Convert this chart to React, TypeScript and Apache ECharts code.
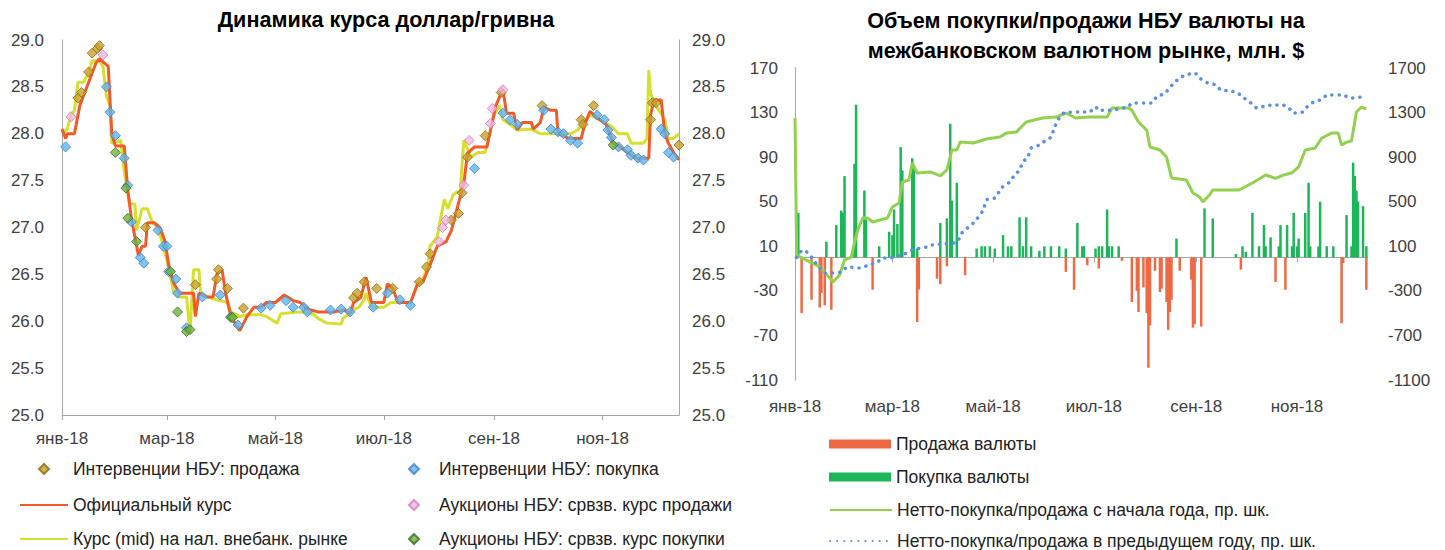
import React, { useEffect, useRef } from 'react';
import * as echarts from 'echarts';

// ---------- axis ticks (day of year 2018, 0 = 1 Jan) ----------
const MONTH_DAYS = [0, 59, 120, 181, 243, 304];
const MONTH_LABELS = ['янв-18', 'мар-18', 'май-18', 'июл-18', 'сен-18', 'ноя-18'];
const X_MAX = 347;

// ---------- left chart: USD/UAH ----------
const officialRate: [number, number][] = [
  [0, 28.05], [2, 27.95], [3, 28.0], [7, 28.0], [10, 28.3], [13, 28.45], [16, 28.6], [19, 28.75],
  [21, 28.8], [24, 28.75], [26, 28.72], [28, 28.0], [30, 27.87], [35, 27.87], [37, 27.4], [39, 27.1],
  [41, 26.9], [43, 26.7], [45, 26.8], [47, 26.8], [48, 27.05], [52, 27.05], [55, 27.0], [58, 26.85],
  [60, 26.6], [63, 26.4], [66, 26.3], [70, 26.3], [74, 26.3], [75, 26.05], [77, 26.3], [81, 26.26],
  [85, 26.26], [87, 26.5], [90, 26.55], [92, 26.3], [95, 26.05], [100, 25.9], [104, 26.05], [108, 26.15],
  [112, 26.15], [115, 26.2], [120, 26.2], [125, 26.28], [130, 26.22], [134, 26.2], [138, 26.13], [144, 26.1],
  [153, 26.1], [159, 26.12], [162, 26.08], [164, 26.2], [168, 26.25], [171, 26.47], [174, 26.2], [181, 26.2],
  [183, 26.4], [186, 26.35], [189, 26.2], [196, 26.2], [200, 26.4], [203, 26.42], [207, 26.6], [211, 26.8],
  [216, 26.85], [219, 26.97], [223, 27.26], [226, 27.47], [228, 27.79], [232, 27.86], [239, 27.86], [241, 28.04],
  [244, 28.3], [247, 28.43], [248, 28.47], [250, 28.22], [254, 28.22], [256, 28.04], [259, 28.12], [264, 28.12],
  [265, 28.05], [269, 28.12], [271, 28.28], [275, 28.25], [278, 28.25], [279, 28.0], [285, 27.95], [292, 27.95],
  [294, 28.1], [297, 28.24], [301, 28.17], [306, 28.1], [310, 27.9], [314, 27.86], [318, 27.8], [323, 27.74],
  [330, 27.74], [331, 28.2], [333, 28.36], [337, 28.36], [339, 28.0], [341, 27.9], [344, 27.8], [347, 27.72],
];

const cashMarketRate: [number, number][] = [
  [0, 28.0], [3, 28.05], [5, 28.2], [7, 28.25], [9, 28.55], [12, 28.55], [15, 28.65], [17, 28.78],
  [21, 28.78], [23, 28.72], [25, 28.4], [27, 28.3], [28, 27.9], [33, 27.93], [35, 27.6], [38, 27.25],
  [41, 27.25], [42, 26.97], [45, 27.2], [48, 27.2], [51, 27.05], [54, 27.0], [57, 26.8], [59, 26.65],
  [63, 26.3], [66, 26.26], [70, 26.26], [72, 25.87], [74, 26.55], [77, 26.55], [78, 26.3], [82, 26.26],
  [85, 26.24], [89, 26.22], [93, 26.2], [95, 26.1], [100, 26.05], [104, 26.07], [112, 26.07], [115, 26.05],
  [121, 25.98], [123, 26.08], [134, 26.1], [141, 26.08], [144, 26.03], [149, 25.98], [157, 25.97], [158, 26.03],
  [164, 26.12], [167, 26.15], [170, 26.23], [171, 26.3], [174, 26.15], [181, 26.15], [185, 26.2], [196, 26.2],
  [200, 26.4], [203, 26.45], [206, 26.6], [207, 26.8], [211, 26.9], [215, 27.3], [217, 27.2], [220, 27.35],
  [224, 27.4], [226, 27.93], [230, 27.75], [234, 27.8], [238, 27.8], [241, 28.04], [243, 28.2], [246, 28.3],
  [248, 28.15], [252, 28.1], [256, 28.04], [264, 28.05], [269, 28.0], [281, 28.0], [286, 28.0], [290, 28.04],
  [293, 28.1], [297, 28.2], [305, 28.12], [309, 28.08], [313, 28.0], [318, 28.0], [320, 27.9], [327, 27.9],
  [329, 27.95], [330, 28.68], [331, 28.43], [334, 28.3], [339, 28.15], [341, 27.95], [344, 27.95], [347, 28.0],
];

const interventionSell: [number, number][] = [
  [9, 28.38], [11, 28.44], [15, 28.66], [17, 28.86], [20, 28.91], [21, 28.94], [47, 27.0], [75, 26.39],
  [87, 26.45], [88, 26.55], [93, 26.35], [102, 26.14], [164, 26.25], [166, 26.3], [170, 26.42], [177, 26.35],
  [186, 26.35], [201, 26.42], [205, 26.58], [207, 26.72], [219, 27.08], [223, 27.15], [225, 27.37], [228, 27.75],
  [238, 27.98], [247, 28.44], [270, 28.3], [292, 28.15], [293, 28.1], [299, 28.3], [331, 28.15], [332, 28.33],
  [334, 28.33], [347, 27.88],
];

const interventionBuy: [number, number][] = [
  [2, 27.86], [25, 28.5], [27, 28.23], [30, 27.98], [35, 27.74], [37, 27.45], [39, 27.06], [44, 26.68],
  [46, 26.62], [54, 26.97], [57, 26.8], [59, 26.8], [60, 26.53], [64, 26.45], [65, 26.3], [70, 25.93],
  [79, 26.26], [89, 26.28], [95, 26.05], [99, 25.96], [112, 26.14], [117, 26.17], [126, 26.22], [130, 26.15],
  [136, 26.15], [138, 26.1], [151, 26.12], [157, 26.13], [162, 26.1], [175, 26.15], [183, 26.3], [190, 26.23],
  [196, 26.17], [232, 27.63], [248, 28.22], [252, 28.15], [256, 28.1], [271, 28.25], [275, 28.05], [279, 28.02],
  [282, 28.0], [286, 27.93], [290, 27.9], [301, 28.2], [305, 28.15], [307, 28.04], [309, 27.96], [313, 27.86],
  [318, 27.83], [320, 27.77], [324, 27.74], [327, 27.72], [337, 28.05], [339, 28.0], [341, 27.8], [344, 27.75],
];

const auctionSell: [number, number][] = [
  [5, 28.18], [23, 28.84], [212, 26.85], [214, 27.0], [216, 27.08], [226, 27.45], [229, 27.93], [241, 28.11],
  [242, 28.27], [248, 28.47],
];

const auctionBuy: [number, number][] = [
  [30, 27.8], [36, 27.42], [37, 27.1], [42, 26.85], [61, 26.53], [65, 26.1], [70, 25.89], [72, 25.91],
  [95, 26.04], [96, 26.04], [310, 27.88],
];

// ---------- right chart: NBU purchases / sales, mln $ ----------
const fxSales: [number, number][] = [
  [4, -50], [10, -38], [15, -45], [16, -32], [18, -43], [22, -47], [47, -29], [74, -58], [75, -29],
  [86, -19], [88, -24], [92, -8], [103, -16], [164, -13], [169, -29], [177, -7], [184, -10], [198, -3],
  [204, -40], [207, -30], [208, -49], [211, -27], [213, -50], [214, -99], [215, -61], [218, -12], [221, -31],
  [222, -28], [225, -40], [226, -65], [227, -49], [228, -38], [233, -12], [240, -20], [241, -63], [242, -60],
  [246, -62], [270, -11], [291, -22], [297, -29], [331, -59], [332, -5], [346, -29],
];

const fxPurchases: [number, number][] = [
  [2, 40], [19, 14], [25, 29], [28, 42], [29, 40], [30, 73], [36, 84], [37, 137], [42, 60], [43, 34],
  [51, 10], [57, 23], [59, 20], [60, 43], [62, 30], [64, 99], [65, 78], [71, 89], [72, 83], [74, 8],
  [88, 31], [92, 35], [94, 120], [95, 51], [98, 67], [110, 8], [113, 10], [115, 10], [118, 10], [121, 8],
  [126, 20], [129, 10], [131, 10], [136, 36], [138, 10], [140, 36], [143, 10], [148, 6], [151, 10], [155, 10],
  [160, 10], [164, 8], [171, 31], [174, 10], [175, 10], [182, 8], [184, 10], [186, 10], [189, 43], [190, 10],
  [192, 10], [196, 10], [231, 17], [248, 44], [253, 35], [267, 3], [271, 10], [273, 5], [277, 40], [281, 10],
  [284, 29], [285, 10], [288, 18], [293, 10], [294, 29], [298, 29], [301, 10], [302, 40], [304, 10], [305, 17],
  [309, 40], [311, 67], [312, 10], [317, 10], [318, 50], [322, 10], [326, 10], [334, 38], [337, 10], [338, 85],
  [339, 73], [340, 60], [341, 50], [344, 46], [346, 10],
];

const netYtd: [number, number][] = [
  [0, 1250], [1, 20], [9, -40], [15, -85], [21, -185], [23, -220], [27, -157], [30, -22], [34, 0], [36, 130],
  [38, 247], [41, 354], [44, 354], [47, 318], [56, 354], [59, 453], [63, 489], [65, 677], [69, 695], [71, 848],
  [74, 758], [82, 767], [88, 731], [92, 785], [95, 964], [98, 964], [100, 1036], [108, 1027], [116, 1063],
  [124, 1080], [128, 1116], [134, 1125], [140, 1215], [150, 1251], [158, 1260], [164, 1296], [170, 1251],
  [178, 1260], [189, 1260], [192, 1341], [202, 1341], [204, 1320], [208, 1215], [213, 1143], [215, 991],
  [221, 964], [225, 901], [228, 713], [237, 695], [241, 578], [245, 543], [247, 498], [251, 560], [253, 605],
  [269, 605], [277, 668], [285, 740], [291, 710], [296, 740], [301, 760], [305, 812], [309, 964], [315, 982],
  [319, 1072], [325, 1116], [329, 1116], [331, 1009], [334, 1035], [337, 1045], [340, 1305], [343, 1350],
  [346, 1330],
];

const netPrevYear: [number, number][] = [
  [1, 0], [5, 67], [9, 22], [12, -40], [15, -94], [18, -139], [23, -139], [28, -130], [32, -85], [39, -94],
  [45, -67], [50, -40], [53, -5], [57, -5], [65, 22], [71, 67], [80, 94], [83, 112], [91, 121], [98, 139],
  [101, 219], [108, 309], [114, 426], [116, 516], [121, 534], [125, 623], [130, 677], [133, 740], [136, 785],
  [138, 856], [141, 901], [143, 982], [148, 1009], [152, 1054], [155, 1080], [157, 1161], [160, 1251],
  [163, 1296], [172, 1305], [178, 1305], [182, 1350], [184, 1320], [190, 1320], [201, 1350], [205, 1386],
  [216, 1386], [219, 1440], [224, 1475], [230, 1574], [234, 1619], [237, 1637], [242, 1655], [245, 1610],
  [250, 1565], [255, 1547], [258, 1502], [263, 1495], [268, 1475], [272, 1431], [276, 1386], [280, 1341],
  [285, 1360], [290, 1368], [295, 1368], [299, 1340], [302, 1296], [306, 1296], [310, 1350], [314, 1395],
  [318, 1413], [323, 1458], [331, 1458], [337, 1431], [343, 1440],
];

const FONT = "'Liberation Sans', Arial, sans-serif";
const AXIS_GRAY = '#A6A6A6';
const LABEL_COLOR = '#404040';
const AXIS_SIZE = 17;
const LEGEND_SIZE = 17.5;

const monthLabel = (v: number) => {
  const i = MONTH_DAYS.indexOf(Math.round(v));
  return i >= 0 ? MONTH_LABELS[i] : '';
};

// legend icon: a small diamond centred in a wide (invisible-bounded) box
const diamondIcon = (w: number) => {
  const c = w / 2;
  return `path://M0,5L0,5M${c - 5},5L${c},0L${c + 5},5L${c},10ZM${w},5L${w},5`;
};

const N_SELL = 'Интервенции НБУ: продажа';
const N_BUY = 'Интервенции НБУ: покупка';
const N_OFF = 'Официальный курс';
const N_AUC_S = 'Аукционы НБУ: срвзв. курс продажи';
const N_MID = 'Курс (mid) на нал. внебанк. рынке';
const N_AUC_B = 'Аукционы НБУ: срвзв. курс покупки';
const N_SALES = 'Продажа валюты';
const N_PURCH = 'Покупка валюты';
const N_YTD = 'Нетто-покупка/продажа с начала года, пр. шк.';
const N_PREV = 'Нетто-покупка/продажа в предыдущем году, пр. шк.';

const diamond = (name: string, data: [number, number][], fill: string, border: string) => ({
  name,
  type: 'scatter',
  xAxisIndex: 0,
  yAxisIndex: 0,
  data,
  symbol: 'diamond',
  symbolSize: 10,
  itemStyle: { color: fill, borderColor: border, borderWidth: 1 },
  z: 5,
});

type Kind = 'diamond' | 'line' | 'rect';
const legendOne = (name: string, kind: Kind, left: number, top: number, itemWidth: number) => ({
  left,
  top,
  orient: 'horizontal',
  itemWidth,
  itemHeight: kind === 'rect' ? 9 : 10,
  selectedMode: false,
  textStyle: { fontSize: LEGEND_SIZE, color: '#222', fontFamily: FONT },
  data: [
    kind === 'diamond'
      ? { name, icon: diamondIcon(itemWidth) }
      : kind === 'rect'
      ? { name, icon: 'rect' }
      : { name, itemStyle: { opacity: 0 } },
  ],
});

export default function App() {
  const ref = useRef<HTMLDivElement>(null);

  useEffect(() => {
    if (!ref.current) return;
    const chart = echarts.init(ref.current, undefined, { renderer: 'svg' });
    const labelStyle = { color: LABEL_COLOR, fontSize: AXIS_SIZE, fontFamily: FONT };

    chart.setOption({
      animation: false,
      backgroundColor: '#ffffff',
      textStyle: { fontFamily: FONT },
      title: [
        {
          text: 'Динамика курса доллар/гривна',
          left: 381,
          top: 3,
          textAlign: 'center',
          textStyle: { fontFamily: FONT, fontSize: 21.6, fontWeight: 'bold', color: '#000' },
        },
        {
          text: 'Объем покупки/продажи НБУ валюты на\nмежбанковском валютном рынке, млн. $',
          left: 1081,
          top: 0,
          textAlign: 'center',
          textStyle: { fontFamily: FONT, fontSize: 21.6, fontWeight: 'bold', color: '#000', lineHeight: 30 },
        },
      ],
      legend: [
        legendOne(N_SELL, 'diamond', 14, 455, 48),
        legendOne(N_OFF, 'line', 14, 491, 48),
        legendOne(N_MID, 'line', 14, 525, 48),
        legendOne(N_BUY, 'diamond', 388, 455, 40),
        legendOne(N_AUC_S, 'diamond', 388, 491, 40),
        legendOne(N_AUC_B, 'diamond', 388, 525, 40),
        legendOne(N_SALES, 'rect', 824, 430, 62),
        legendOne(N_PURCH, 'rect', 824, 463, 62),
        legendOne(N_YTD, 'line', 824, 496, 62),
        legendOne(N_PREV, 'line', 824, 527, 62),
      ],
      grid: [
        { left: 62, top: 40, width: 617, height: 375 },
        { left: 795, top: 68, width: 573, height: 312 },
      ],
      xAxis: [
        {
          gridIndex: 0,
          type: 'value',
          min: 0,
          max: X_MAX,
          axisLine: { show: true, lineStyle: { color: AXIS_GRAY, width: 1 } },
          axisTick: { show: true, customValues: MONTH_DAYS, length: 5, lineStyle: { color: AXIS_GRAY } },
          axisLabel: { ...labelStyle, customValues: MONTH_DAYS, formatter: monthLabel, margin: 15 },
          splitLine: { show: false },
        },
        {
          gridIndex: 1,
          type: 'value',
          min: 0,
          max: X_MAX,
          axisLine: { show: true, onZero: true, lineStyle: { color: AXIS_GRAY, width: 1 } },
          axisTick: { show: true, customValues: MONTH_DAYS, length: 5, lineStyle: { color: AXIS_GRAY } },
          axisLabel: { show: false },
          splitLine: { show: false },
        },
        {
          gridIndex: 1,
          type: 'value',
          position: 'bottom',
          min: 0,
          max: X_MAX,
          axisLine: { show: false, onZero: false },
          axisTick: { show: false },
          axisLabel: { ...labelStyle, customValues: MONTH_DAYS, formatter: monthLabel, margin: 18 },
          splitLine: { show: false },
        },
      ],
      yAxis: [
        {
          gridIndex: 0,
          type: 'value',
          min: 25,
          max: 29,
          interval: 0.5,
          axisLine: { show: true, lineStyle: { color: AXIS_GRAY } },
          axisTick: { show: false },
          splitLine: { show: false },
          axisLabel: { ...labelStyle, margin: 18, formatter: (v: number) => v.toFixed(1) },
        },
        {
          gridIndex: 0,
          type: 'value',
          position: 'right',
          min: 25,
          max: 29,
          interval: 0.5,
          axisLine: { show: true, lineStyle: { color: AXIS_GRAY } },
          axisTick: { show: false },
          splitLine: { show: false },
          axisLabel: { ...labelStyle, margin: 13, formatter: (v: number) => v.toFixed(1) },
        },
        {
          gridIndex: 1,
          type: 'value',
          min: -110,
          max: 170,
          interval: 40,
          axisLine: { show: true, lineStyle: { color: AXIS_GRAY } },
          axisTick: { show: false },
          splitLine: { show: false },
          axisLabel: { ...labelStyle, margin: 17, formatter: (v: number) => String(v) },
        },
        {
          gridIndex: 1,
          type: 'value',
          position: 'right',
          min: -1100,
          max: 1700,
          interval: 400,
          axisLine: { show: true, lineStyle: { color: AXIS_GRAY } },
          axisTick: { show: false },
          splitLine: { show: false },
          axisLabel: { ...labelStyle, margin: 20, formatter: (v: number) => String(v) },
        },
      ],
      series: [
        {
          name: N_MID,
          type: 'line',
          xAxisIndex: 0,
          yAxisIndex: 0,
          data: cashMarketRate,
          showSymbol: false,
          symbol: 'none',
          lineStyle: { color: '#D5DF2E', width: 3 },
          itemStyle: { color: '#D5DF2E' },
          z: 2,
        },
        {
          name: N_OFF,
          type: 'line',
          xAxisIndex: 0,
          yAxisIndex: 0,
          data: officialRate,
          showSymbol: false,
          symbol: 'none',
          lineStyle: { color: '#F4592A', width: 3 },
          itemStyle: { color: '#F4592A' },
          z: 3,
        },
        diamond(N_SELL, interventionSell, '#C9A02C', '#8A6A10'),
        diamond(N_BUY, interventionBuy, '#62B4EC', '#3A86C4'),
        diamond(N_AUC_S, auctionSell, '#F2B6DF', '#D27ABD'),
        diamond(N_AUC_B, auctionBuy, '#6DB33F', '#3A6A1E'),
        {
          name: N_SALES,
          type: 'bar',
          xAxisIndex: 1,
          yAxisIndex: 2,
          data: fxSales,
          barWidth: 2.5,
          barGap: '-100%',
          itemStyle: { color: '#EE6A45' },
        },
        {
          name: N_PURCH,
          type: 'bar',
          xAxisIndex: 1,
          yAxisIndex: 2,
          data: fxPurchases,
          barWidth: 2.5,
          barGap: '-100%',
          itemStyle: { color: '#1DB55A' },
        },
        {
          name: N_YTD,
          type: 'line',
          xAxisIndex: 1,
          yAxisIndex: 3,
          data: netYtd,
          showSymbol: false,
          symbol: 'none',
          lineStyle: { color: '#92D050', width: 3 },
          itemStyle: { color: '#92D050' },
          z: 4,
        },
        {
          name: N_PREV,
          type: 'line',
          xAxisIndex: 1,
          yAxisIndex: 3,
          data: netPrevYear,
          showSymbol: false,
          symbol: 'none',
          smooth: 0.3,
          lineStyle: { color: '#5B8FE0', width: 3.5, type: [0.1, 7], cap: 'round' },
          itemStyle: { color: '#5B8FE0' },
          z: 4,
        },
      ],
    });

    return () => chart.dispose();
  }, []);

  return (
    <div
      ref={ref}
      style={{ position: 'fixed', left: 0, top: 0, width: 1445, height: 550, background: '#fff' }}
    />
  );
}
